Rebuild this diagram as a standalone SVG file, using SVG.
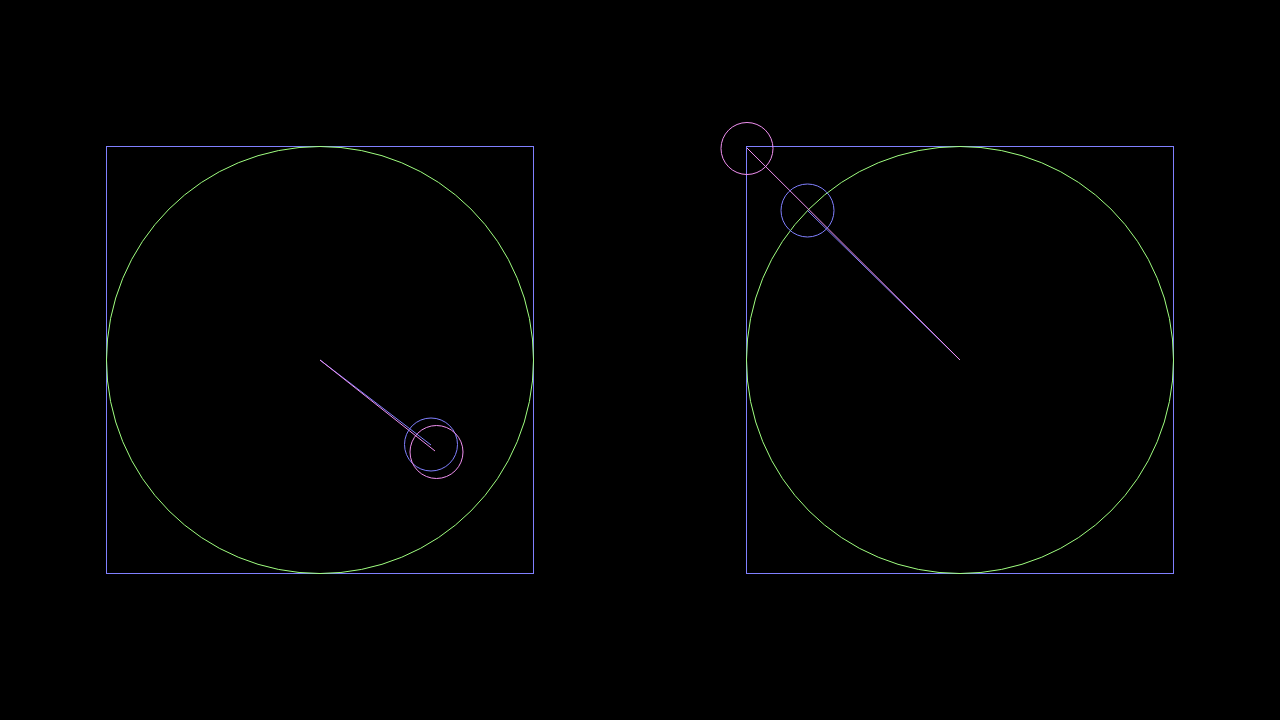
<svg xmlns="http://www.w3.org/2000/svg" width="1280" height="720" viewBox="0 0 1280 720">
<style>
.sq{fill:none;stroke:#8080ff;stroke-width:1}
.gc{fill:none;stroke:#a0ff80;stroke-width:1}
.bl{fill:none;stroke:#8080ff;stroke-width:1}
.pk{fill:none;stroke:#f090f0;stroke-width:1}
</style>
<rect width="1280" height="720" fill="#000"/>
<g id="left">
<rect class="sq" x="106.5" y="146.5" width="427" height="427"/>
<circle class="gc" cx="320" cy="360" r="213.5"/>
<line class="bl" x1="320" y1="360" x2="431" y2="445"/>
<line class="pk" x1="320" y1="360" x2="435" y2="451"/>
<circle class="bl" cx="431" cy="444.5" r="26.5"/>
<circle class="pk" cx="436.5" cy="452" r="26.5"/>
</g>
<g id="right">
<rect class="sq" x="746.5" y="146.5" width="427" height="427"/>
<circle class="gc" cx="960" cy="360" r="213.5"/>
<line class="bl" x1="960" y1="360" x2="807.5" y2="210.5"/>
<line class="pk" x1="960" y1="360" x2="747" y2="148"/>
<circle class="pk" cx="747" cy="148.5" r="26"/>
<circle class="bl" cx="807.5" cy="210.5" r="26.5"/>
</g>
</svg>
